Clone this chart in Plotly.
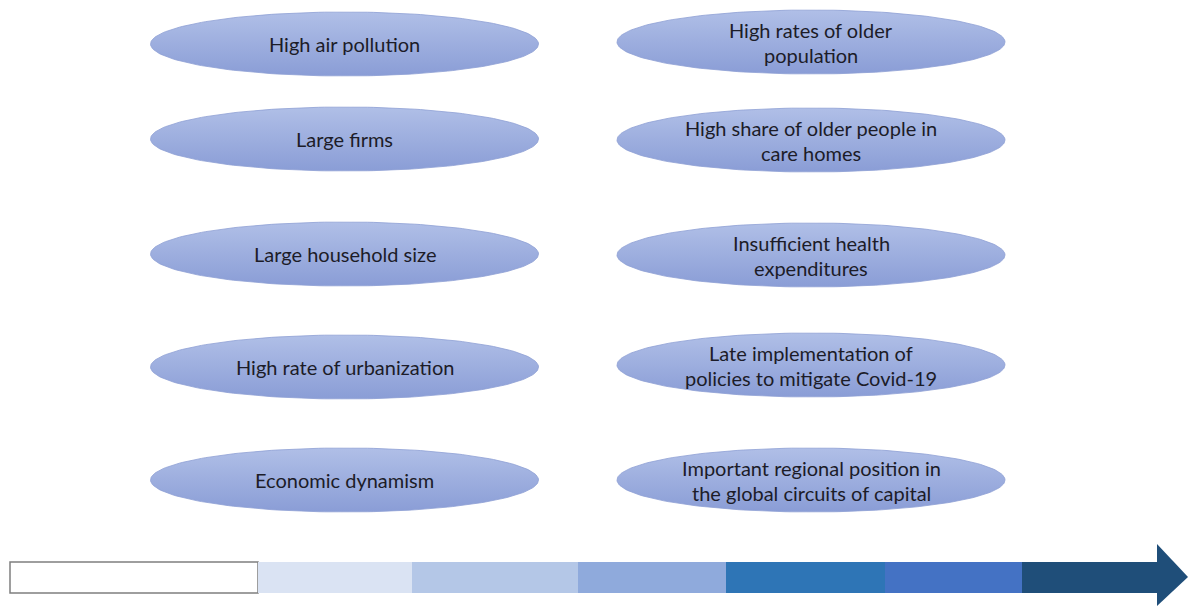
import numpy as np
import plotly.graph_objects as go

# ---- content ----
left_labels = ["High air pollution", "Large firms", "Large household size",
               "High rate of urbanization", "Economic dynamism"]
right_labels = ["High rates of older<br>population",
                "High share of older people in<br>care homes",
                "Insufficient health<br>expenditures",
                "Late implementation of<br>policies to mitigate Covid-19",
                "Important regional position in<br>the global circuits of capital"]
bar_colors = ["#ffffff", "#dae3f3", "#b4c7e7", "#8faadc", "#2e75b6", "#4472c4", "#1f4e79"]

# ---- layout constants ----
W, H = 1189, 608
left_cx, right_cx = 344.5, 811
left_cy = [44, 139, 254, 367, 480]
right_cy = [42, 140, 255, 365, 480]
rx, ry = 194, 32
bar_edges = [10, 258, 412, 578, 726, 885, 1022, 1158]
bar_top, bar_bot = 562, 593
head_top, head_bot, tip_x, tip_y = 544, 606, 1188, 577

fig = go.Figure()
t = np.linspace(0, 2 * np.pi, 200)

def add_ellipse(cx, cy):
    fig.add_trace(go.Scatter(
        x=cx + rx * np.cos(t), y=cy + ry * np.sin(t),
        mode="lines", fill="toself",
        line=dict(color="#8ea0d4", width=0.8),
        fillgradient=dict(type="vertical",
                          colorscale=[[0, "#8a9dd6"], [1, "#b0bfe7"]]),
        hoverinfo="skip", showlegend=False))

def add_text(cx, cy, label):
    lines = label.split("<br>")
    n = len(lines)
    for i, ln in enumerate(lines):
        y = cy + (i - (n - 1) / 2) * 25
        fig.add_annotation(x=cx, y=y, text=ln, showarrow=False,
                           font=dict(family="Lato", size=20, color="#1c1c28"),
                           xanchor="center", yanchor="middle")

for cy, lab in zip(left_cy, left_labels):
    add_ellipse(left_cx, cy)
    add_text(left_cx, cy, lab)
for cy, lab in zip(right_cy, right_labels):
    add_ellipse(right_cx, cy)
    add_text(right_cx, cy, lab)

# ---- progress bar with arrow ----
shapes = []
for i, col in enumerate(bar_colors):
    x0, x1 = bar_edges[i], bar_edges[i + 1]
    shapes.append(dict(type="rect", xref="x", yref="y", x0=x0, x1=x1,
                       y0=bar_top, y1=bar_bot, fillcolor=col,
                       line=dict(color="#7f7f7f", width=1.5) if i == 0 else dict(width=0),
                       layer="above"))
shapes.append(dict(type="path", xref="x", yref="y",
                   path=f"M {bar_edges[-1]-1},{head_top} L {tip_x},{tip_y} L {bar_edges[-1]-1},{head_bot} Z",
                   fillcolor=bar_colors[-1], line=dict(width=0), layer="above"))

fig.update_layout(
    width=W, height=H, margin=dict(l=0, r=0, t=0, b=0),
    paper_bgcolor="white", plot_bgcolor="white",
    xaxis=dict(range=[0, W], visible=False, fixedrange=True),
    yaxis=dict(range=[H, 0], visible=False, fixedrange=True),
    shapes=shapes, showlegend=False, hovermode=False,
)

fig.write_html(
    "out.html",
    config={"displayModeBar": False, "staticPlot": True},
    post_script="document.body.style.margin='0';document.body.style.overflow='hidden';",
)
